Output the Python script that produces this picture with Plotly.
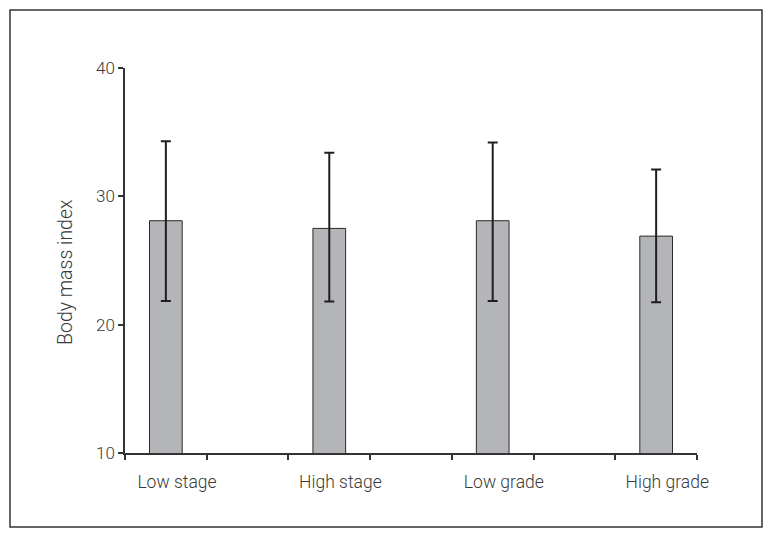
import plotly.graph_objects as go

categories = ["Low stage", "High stage", "Low grade", "High grade"]
means = [28.1, 27.5, 28.1, 26.9]
upper = [34.3, 33.4, 34.2, 32.1]
lower = [21.85, 21.8, 21.85, 21.75]
y_ticks = [10, 20, 30, 40]

xpos = list(range(len(categories)))
label_pos = [p + 0.068 for p in xpos]
err_plus = [u - m for u, m in zip(upper, means)]
err_minus = [m - l for m, l in zip(means, lower)]

fig = go.Figure()
fig.add_trace(go.Bar(
    x=xpos, y=means, width=0.2,
    marker=dict(color="#b4b5b9", line=dict(color="#2a2a2a", width=1)),
    error_y=dict(type="data", symmetric=False, array=err_plus, arrayminus=err_minus,
                 color="#1f1f1f", thickness=2, width=5),
    showlegend=False,
))

axis_color = "#333333"
txt_color = "#3a3a3a"
fig.update_layout(
    width=773, height=539,
    margin=dict(l=117, r=84, t=60, b=94),
    paper_bgcolor="white", plot_bgcolor="white",
    font=dict(family="Roboto, Liberation Sans, Arial, sans-serif", color=txt_color, weight=300),
    xaxis=dict(
        range=[-0.25, 3.25], tickvals=label_pos, ticktext=categories,
        showgrid=False, zeroline=False, showline=True, linecolor=axis_color, linewidth=1.5,
        ticks="", tickfont=dict(size=17.5, color=txt_color, weight=300),
        minor=dict(tick0=-0.25, dtick=0.5, ticks="outside", ticklen=5, tickcolor=axis_color, tickwidth=1.5, showgrid=False),
        ticklabelstandoff=12,
    ),
    yaxis=dict(
        range=[10, 40], tickvals=y_ticks, showgrid=False, zeroline=False,
        showline=True, linecolor=axis_color, linewidth=1.5,
        ticks="outside", ticklen=5, tickcolor=axis_color, tickwidth=1.5,
        tickfont=dict(size=17, color=txt_color, weight=300),
    ),
    annotations=[dict(text="Body mass index", textangle=-90, xref="paper", yref="paper",
                      x=(65 - 125) / 572, y=(453 - 272) / 385, xanchor="center", yanchor="middle",
                      showarrow=False, font=dict(size=19.5, color=txt_color, weight=300))],
    shapes=[dict(type="rect", xref="paper", yref="paper",
                 x0=(10 - 125) / 572, x1=(762 - 125) / 572,
                 y0=(453 - 527) / 385, y1=(453 - 10) / 385,
                 line=dict(color="#333333", width=1.5), fillcolor="rgba(0,0,0,0)", layer="below")],
)

fig.write_html("out.html")
